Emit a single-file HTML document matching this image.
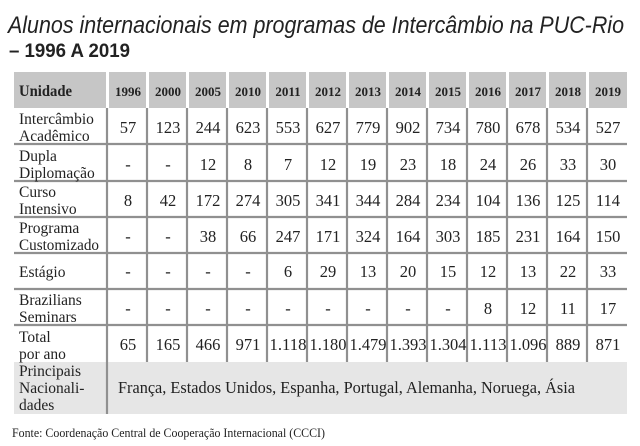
<!DOCTYPE html>
<html><head><meta charset="utf-8"><style>
html,body{margin:0;padding:0;background:#fff;}
svg{display:block;}
.t{font-family:"Liberation Sans",sans-serif;}
.s{font-family:"Liberation Serif",serif;fill:#222;}
</style></head><body>
<svg width="640" height="446" viewBox="0 0 640 446" xmlns="http://www.w3.org/2000/svg">
<text class="t" x="8" y="33" font-size="24" font-style="italic" fill="#222" textLength="616" lengthAdjust="spacingAndGlyphs">Alunos internacionais em programas de Intercâmbio na PUC-Rio</text>
<text class="t" x="9" y="57" font-size="19" font-weight="bold" fill="#222" textLength="121" lengthAdjust="spacingAndGlyphs">– 1996 A 2019</text>
<g fill="#c6c6c6">
<rect x="14" y="72" width="92" height="36"/>
<rect x="109" y="72" width="37" height="36"/><rect x="149" y="72" width="37" height="36"/><rect x="189" y="72" width="37" height="36"/><rect x="229" y="72" width="37" height="36"/><rect x="269" y="72" width="37" height="36"/><rect x="309" y="72" width="37" height="36"/><rect x="349" y="72" width="37" height="36"/><rect x="389" y="72" width="37" height="36"/><rect x="429" y="72" width="37" height="36"/><rect x="469" y="72" width="37" height="36"/><rect x="509" y="72" width="37" height="36"/><rect x="549" y="72" width="37" height="36"/><rect x="589" y="72" width="38" height="36"/>
</g>
<rect x="14" y="362" width="613" height="52" fill="#e6e6e6"/>
<g stroke="#909090" stroke-width="2.2">
<line x1="14" y1="144" x2="627" y2="144"/><line x1="14" y1="181" x2="627" y2="181"/><line x1="14" y1="217" x2="627" y2="217"/><line x1="14" y1="253" x2="627" y2="253"/><line x1="14" y1="289" x2="627" y2="289"/><line x1="14" y1="325" x2="627" y2="325"/>
<line x1="107" y1="108" x2="107" y2="414"/>
<line x1="147" y1="108" x2="147" y2="362"/><line x1="187" y1="108" x2="187" y2="362"/><line x1="227" y1="108" x2="227" y2="362"/><line x1="267" y1="108" x2="267" y2="362"/><line x1="307" y1="108" x2="307" y2="362"/><line x1="347" y1="108" x2="347" y2="362"/><line x1="387" y1="108" x2="387" y2="362"/><line x1="427" y1="108" x2="427" y2="362"/><line x1="467" y1="108" x2="467" y2="362"/><line x1="507" y1="108" x2="507" y2="362"/><line x1="547" y1="108" x2="547" y2="362"/><line x1="587" y1="108" x2="587" y2="362"/>
</g>
<text class="s" x="19" y="96" font-size="16" font-weight="bold" fill="#333" textLength="53" lengthAdjust="spacingAndGlyphs">Unidade</text>
<g class="s" font-size="13" font-weight="bold" text-anchor="middle">
<text x="128" y="96">1996</text><text x="168" y="96">2000</text><text x="208" y="96">2005</text><text x="248" y="96">2010</text><text x="288" y="96">2011</text><text x="328" y="96">2012</text><text x="368" y="96">2013</text><text x="408" y="96">2014</text><text x="448" y="96">2015</text><text x="488" y="96">2016</text><text x="528" y="96">2017</text><text x="568" y="96">2018</text><text x="608" y="96">2019</text>
</g>
<g class="s" font-size="15.5">
<text x="19" y="124">Intercâmbio</text><text x="19" y="141">Acadêmico</text>
<text x="19" y="161">Dupla</text><text x="19" y="178">Diplomação</text>
<text x="19" y="197">Curso</text><text x="19" y="214">Intensivo</text>
<text x="19" y="233">Programa</text><text x="19" y="250" textLength="80" lengthAdjust="spacingAndGlyphs">Customizado</text>
<text x="19" y="277">Estágio</text>
<text x="19" y="305">Brazilians</text><text x="19" y="322">Seminars</text>
<text x="19" y="342">Total</text><text x="19" y="359">por ano</text>
<text x="19" y="376">Principais</text><text x="19" y="393">Nacionali-</text><text x="19" y="410">dades</text>
<text x="118" y="393" font-size="16.5" textLength="457" lengthAdjust="spacingAndGlyphs">França, Estados Unidos, Espanha, Portugal, Alemanha, Noruega, Ásia</text>
</g>
<g class="s" font-size="16.5" text-anchor="middle">
<text x="128" y="133">57</text><text x="168" y="133">123</text><text x="208" y="133">244</text><text x="248" y="133">623</text><text x="288" y="133">553</text><text x="328" y="133">627</text><text x="368" y="133">779</text><text x="408" y="133">902</text><text x="448" y="133">734</text><text x="488" y="133">780</text><text x="528" y="133">678</text><text x="568" y="133">534</text><text x="608" y="133">527</text>
<text x="128" y="170">-</text><text x="168" y="170">-</text><text x="208" y="170">12</text><text x="248" y="170">8</text><text x="288" y="170">7</text><text x="328" y="170">12</text><text x="368" y="170">19</text><text x="408" y="170">23</text><text x="448" y="170">18</text><text x="488" y="170">24</text><text x="528" y="170">26</text><text x="568" y="170">33</text><text x="608" y="170">30</text>
<text x="128" y="206">8</text><text x="168" y="206">42</text><text x="208" y="206">172</text><text x="248" y="206">274</text><text x="288" y="206">305</text><text x="328" y="206">341</text><text x="368" y="206">344</text><text x="408" y="206">284</text><text x="448" y="206">234</text><text x="488" y="206">104</text><text x="528" y="206">136</text><text x="568" y="206">125</text><text x="608" y="206">114</text>
<text x="128" y="242">-</text><text x="168" y="242">-</text><text x="208" y="242">38</text><text x="248" y="242">66</text><text x="288" y="242">247</text><text x="328" y="242">171</text><text x="368" y="242">324</text><text x="408" y="242">164</text><text x="448" y="242">303</text><text x="488" y="242">185</text><text x="528" y="242">231</text><text x="568" y="242">164</text><text x="608" y="242">150</text>
<text x="128" y="277">-</text><text x="168" y="277">-</text><text x="208" y="277">-</text><text x="248" y="277">-</text><text x="288" y="277">6</text><text x="328" y="277">29</text><text x="368" y="277">13</text><text x="408" y="277">20</text><text x="448" y="277">15</text><text x="488" y="277">12</text><text x="528" y="277">13</text><text x="568" y="277">22</text><text x="608" y="277">33</text>
<text x="128" y="314">-</text><text x="168" y="314">-</text><text x="208" y="314">-</text><text x="248" y="314">-</text><text x="288" y="314">-</text><text x="328" y="314">-</text><text x="368" y="314">-</text><text x="408" y="314">-</text><text x="448" y="314">-</text><text x="488" y="314">8</text><text x="528" y="314">12</text><text x="568" y="314">11</text><text x="608" y="314">17</text>
<text x="128" y="350">65</text><text x="168" y="350">165</text><text x="208" y="350">466</text><text x="248" y="350">971</text><text x="288" y="350" textLength="37" lengthAdjust="spacingAndGlyphs">1.118</text><text x="328" y="350" textLength="37" lengthAdjust="spacingAndGlyphs">1.180</text><text x="368" y="350" textLength="37" lengthAdjust="spacingAndGlyphs">1.479</text><text x="408" y="350" textLength="37" lengthAdjust="spacingAndGlyphs">1.393</text><text x="448" y="350" textLength="37" lengthAdjust="spacingAndGlyphs">1.304</text><text x="488" y="350" textLength="37" lengthAdjust="spacingAndGlyphs">1.113</text><text x="528" y="350" textLength="37" lengthAdjust="spacingAndGlyphs">1.096</text><text x="568" y="350">889</text><text x="608" y="350">871</text>
</g>
<text class="s" x="12" y="437" font-size="12.5" textLength="313" lengthAdjust="spacingAndGlyphs">Fonte: Coordenação Central de Cooperação Internacional (CCCI)</text>
</svg>
</body></html>
